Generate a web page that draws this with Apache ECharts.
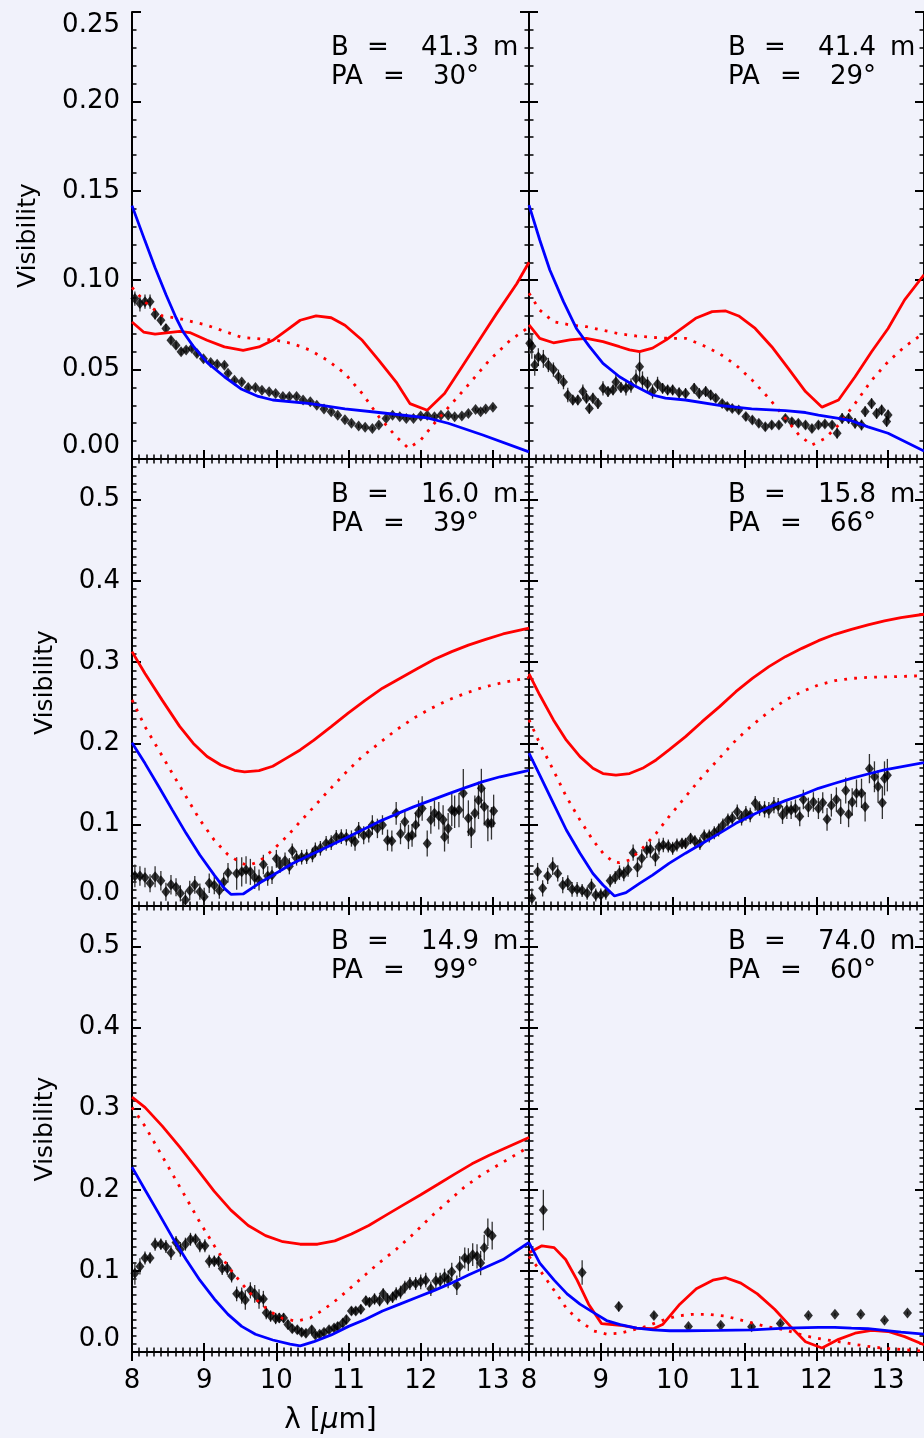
<!DOCTYPE html>
<html><head><meta charset="utf-8">
<script src="https://cdn.jsdelivr.net/npm/echarts@6.0.0/dist/echarts.min.js"></script>
<style>html,body{margin:0;padding:0;background:#f1f2fb}#c{width:924px;height:1438px}</style>
</head><body><div id="c"></div>
<script>
// ---------------- DATA ----------------
const xTicks = [8, 9, 10, 11, 12, 13];
const baselineLen = ['41.3', '41.4', '16.0', '15.8', '14.9', '74.0'];
const posAngle = ['30', '29', '39', '66', '99', '60'];

// Panel 1 (B=41.3 m, PA=30)
const p1_lam = [8.04,8.11,8.18,8.25,8.32,8.40,8.47,8.54,8.61,8.68,8.75,8.83,8.90,8.99,9.09,9.18,9.28,9.33,9.42,9.52,9.61,9.71,9.80,9.90,9.99,10.09,10.18,10.28,10.37,10.47,10.56,10.66,10.76,10.85,10.95,11.04,11.14,11.23,11.33,11.42,11.52,11.61,11.71,11.80,11.90,12.00,12.09,12.19,12.28,12.38,12.47,12.57,12.66,12.76,12.83,12.90,13.00];
const p1_vis = [0.0897,0.087,0.088,0.088,0.081,0.0776,0.073,0.0664,0.0636,0.060,0.061,0.062,0.059,0.056,0.054,0.053,0.0525,0.048,0.044,0.043,0.040,0.040,0.0385,0.0376,0.0366,0.035,0.035,0.035,0.033,0.032,0.030,0.028,0.0264,0.0245,0.022,0.020,0.0184,0.0177,0.017,0.019,0.0227,0.0245,0.0236,0.0227,0.0227,0.024,0.0245,0.0236,0.0245,0.0245,0.0236,0.024,0.0255,0.0277,0.0264,0.028,0.029];
const p1_err = [0.004,0.0045,0.004,0.004,0.003,0.003,0.0025,0.002,0.002,0.0018,0.0015,0.0015,0.0015,0.0015,0.0014,0.0014,0.0013,0.0012,0.0012,0.0012,0.0011,0.0011,0.001,0.001,0.001,0.001,0.001,0.001,0.001,0.001,0.001,0.001,0.001,0.001,0.001,0.001,0.001,0.001,0.001,0.001,0.001,0.001,0.001,0.001,0.001,0.001,0.001,0.001,0.001,0.001,0.001,0.001,0.001,0.001,0.001,0.001,0.001];
const p1_red_lam = [8.0,8.16,8.32,8.66,8.80,9.04,9.28,9.54,9.76,9.95,10.14,10.33,10.55,10.76,10.95,11.19,11.42,11.66,11.85,12.09,12.33,12.57,12.81,13.05,13.33,13.5];
const p1_red = [0.0766,0.071,0.0698,0.0714,0.0707,0.0664,0.0627,0.0608,0.0627,0.0664,0.072,0.0776,0.080,0.079,0.0748,0.0664,0.0552,0.043,0.031,0.0273,0.0366,0.0515,0.0664,0.0813,0.098,0.110];
const p1_dot_lam = [8.0,8.18,8.42,8.66,9.04,9.52,10.0,10.23,10.47,10.71,10.95,11.19,11.42,11.66,11.83,12.0,12.19,12.43,12.67,12.95,13.24,13.5];
const p1_dot = [0.096,0.0878,0.080,0.0785,0.0748,0.068,0.0664,0.0645,0.0608,0.0552,0.0478,0.0366,0.0236,0.0125,0.006,0.0106,0.020,0.031,0.042,0.0552,0.0664,0.0738];
const p1_blue_lam = [8.0,8.18,8.32,8.47,8.61,8.71,8.85,9.04,9.28,9.52,9.75,9.95,10.47,10.95,11.42,12.09,12.38,12.86,13.5];
const p1_blue = [0.1417,0.122,0.107,0.092,0.079,0.071,0.063,0.054,0.046,0.039,0.035,0.033,0.031,0.028,0.026,0.023,0.020,0.0134,0.004];

// Panel 2 (B=41.4 m, PA=29)
const p2_lam = [8.01,8.04,8.08,8.13,8.20,8.27,8.34,8.41,8.48,8.54,8.61,8.68,8.75,8.80,8.84,8.89,8.96,9.03,9.10,9.17,9.21,9.28,9.35,9.42,9.49,9.54,9.58,9.65,9.72,9.79,9.86,9.93,10.00,10.09,10.18,10.30,10.37,10.46,10.53,10.60,10.69,10.76,10.83,10.92,11.02,11.11,11.20,11.29,11.38,11.48,11.57,11.66,11.75,11.85,11.94,12.03,12.12,12.22,12.29,12.36,12.45,12.54,12.63,12.68,12.77,12.84,12.91,12.98,13.00];
const p2_vis = [0.0647,0.063,0.0526,0.057,0.056,0.0526,0.050,0.046,0.043,0.0358,0.033,0.033,0.0377,0.034,0.0283,0.034,0.031,0.0395,0.0377,0.0386,0.043,0.040,0.0395,0.041,0.045,0.0516,0.044,0.042,0.0377,0.042,0.0395,0.0386,0.0386,0.037,0.0367,0.0395,0.0367,0.0377,0.0358,0.034,0.031,0.0293,0.0283,0.0274,0.0237,0.0218,0.020,0.018,0.019,0.019,0.0227,0.0209,0.020,0.019,0.017,0.019,0.0196,0.019,0.0144,0.0227,0.0227,0.020,0.019,0.0265,0.031,0.0255,0.0274,0.021,0.0246];
const p2_err = [0.006,0.007,0.006,0.005,0.005,0.004,0.004,0.004,0.004,0.004,0.003,0.003,0.004,0.003,0.003,0.003,0.003,0.004,0.003,0.003,0.004,0.003,0.004,0.004,0.005,0.008,0.005,0.004,0.004,0.004,0.003,0.003,0.003,0.003,0.003,0.003,0.003,0.003,0.003,0.002,0.002,0.002,0.002,0.002,0.002,0.002,0.002,0.002,0.002,0.002,0.002,0.002,0.002,0.002,0.002,0.002,0.002,0.002,0.003,0.003,0.003,0.003,0.003,0.003,0.003,0.003,0.003,0.003,0.003];
const p2_red_lam = [8.0,8.15,8.34,8.57,8.8,9.03,9.26,9.4,9.54,9.72,9.91,10.09,10.32,10.55,10.74,10.92,11.15,11.38,11.61,11.85,12.08,12.31,12.54,12.77,13.0,13.23,13.5];
const p2_red = [0.075,0.0675,0.065,0.0666,0.0675,0.0656,0.0628,0.061,0.060,0.062,0.0666,0.072,0.0787,0.0824,0.0828,0.080,0.073,0.0628,0.0507,0.0377,0.029,0.033,0.046,0.060,0.073,0.089,0.103];
const p2_dot_lam = [8.0,8.15,8.34,8.57,8.8,9.03,9.26,9.49,9.72,9.95,10.18,10.41,10.65,10.88,11.11,11.34,11.57,11.76,11.94,12.12,12.31,12.54,12.77,13.0,13.23,13.5];
const p2_dot = [0.0927,0.0833,0.0768,0.075,0.074,0.072,0.070,0.0688,0.068,0.0675,0.0675,0.0638,0.059,0.0526,0.044,0.034,0.0227,0.0134,0.0078,0.0115,0.019,0.031,0.044,0.0544,0.0628,0.0705];
const p2_blue_lam = [8.0,8.15,8.29,8.48,8.66,8.84,9.03,9.26,9.49,9.72,9.9,10.18,10.65,11.1,11.57,11.85,12.03,12.31,12.49,12.72,13.0,13.5];
const p2_blue = [0.142,0.1225,0.1057,0.088,0.073,0.063,0.0535,0.046,0.0405,0.0358,0.034,0.033,0.030,0.028,0.027,0.026,0.0246,0.0227,0.0214,0.018,0.0144,0.0045];

// Panel 3 (B=16.0 m, PA=39)
const p3_lam = [8.04,8.11,8.18,8.25,8.32,8.40,8.47,8.54,8.61,8.67,8.74,8.80,8.87,8.94,9.00,9.07,9.14,9.21,9.27,9.33,9.45,9.52,9.58,9.64,9.70,9.76,9.82,9.88,9.94,10.00,10.05,10.12,10.18,10.22,10.28,10.35,10.42,10.50,10.54,10.61,10.69,10.76,10.83,10.90,10.97,11.04,11.09,11.14,11.21,11.28,11.33,11.40,11.47,11.54,11.60,11.66,11.72,11.78,11.83,11.88,11.93,11.97,12.02,12.09,12.14,12.19,12.25,12.31,12.33,12.38,12.43,12.47,12.53,12.59,12.66,12.70,12.75,12.80,12.84,12.88,12.93,12.98,13.01];
const p3_vis = [0.037,0.037,0.035,0.028,0.036,0.031,0.0176,0.026,0.023,0.0156,0.0074,0.019,0.026,0.0176,0.0115,0.028,0.0254,0.019,0.0295,0.041,0.040,0.042,0.0443,0.042,0.035,0.032,0.051,0.037,0.038,0.058,0.0505,0.0558,0.049,0.068,0.0587,0.060,0.0607,0.0628,0.069,0.071,0.077,0.078,0.0845,0.0853,0.0845,0.083,0.079,0.0935,0.087,0.089,0.0997,0.0955,0.0997,0.081,0.080,0.114,0.089,0.1038,0.085,0.087,0.0997,0.114,0.120,0.077,0.106,0.114,0.111,0.106,0.085,0.0955,0.118,0.116,0.118,0.1386,0.108,0.0915,0.114,0.130,0.1448,0.122,0.1017,0.1017,0.117];
const p3_err = [0.014,0.012,0.012,0.011,0.013,0.012,0.011,0.012,0.011,0.010,0.011,0.012,0.011,0.010,0.011,0.012,0.011,0.010,0.011,0.012,0.020,0.018,0.017,0.016,0.014,0.013,0.012,0.012,0.011,0.011,0.010,0.010,0.010,0.009,0.009,0.009,0.009,0.009,0.009,0.009,0.009,0.009,0.009,0.009,0.010,0.010,0.011,0.010,0.011,0.011,0.012,0.012,0.012,0.013,0.013,0.014,0.013,0.014,0.015,0.014,0.015,0.016,0.015,0.016,0.017,0.016,0.017,0.018,0.018,0.019,0.020,0.020,0.021,0.030,0.022,0.020,0.022,0.023,0.024,0.023,0.022,0.020,0.020];
const p3_red_lam = [8.0,8.18,8.42,8.66,8.85,9.04,9.23,9.42,9.56,9.76,9.95,10.14,10.33,10.52,10.76,10.99,11.23,11.47,11.71,11.95,12.19,12.43,12.66,12.9,13.14,13.5];
const p3_red = [0.313,0.286,0.253,0.221,0.200,0.184,0.1735,0.167,0.165,0.1665,0.172,0.182,0.192,0.204,0.2207,0.237,0.253,0.268,0.280,0.292,0.3035,0.313,0.321,0.328,0.3347,0.342];
const p3_dot_lam = [8.0,8.18,8.37,8.56,8.75,8.94,9.14,9.33,9.52,9.61,9.76,9.95,10.14,10.33,10.52,10.71,10.95,11.19,11.42,11.66,11.9,12.14,12.38,12.62,12.86,13.14,13.5];
const p3_dot = [0.2535,0.2207,0.192,0.163,0.1345,0.106,0.081,0.063,0.0525,0.050,0.0545,0.069,0.085,0.1038,0.122,0.1407,0.163,0.184,0.200,0.2166,0.231,0.243,0.2535,0.2617,0.269,0.275,0.281];
const p3_blue_lam = [8.0,8.18,8.37,8.56,8.75,8.94,9.14,9.28,9.37,9.54,9.76,9.99,10.23,10.47,10.71,10.95,11.19,11.42,11.66,11.9,12.14,12.38,12.62,12.86,13.1,13.5];
const p3_blue = [0.201,0.1755,0.147,0.118,0.0894,0.0628,0.038,0.0217,0.0144,0.0148,0.0279,0.040,0.0525,0.0628,0.073,0.083,0.0935,0.1038,0.113,0.122,0.130,0.138,0.1456,0.153,0.159,0.167];

// Panel 4 (B=15.8 m, PA=66)
const p4_lam = [8.04,8.12,8.19,8.26,8.33,8.40,8.47,8.54,8.60,8.67,8.74,8.81,8.87,8.93,9.00,9.07,9.13,9.20,9.26,9.32,9.38,9.45,9.51,9.57,9.64,9.69,9.76,9.81,9.87,9.94,10.00,10.06,10.13,10.18,10.25,10.31,10.38,10.44,10.51,10.58,10.64,10.70,10.77,10.83,10.90,10.96,11.02,11.08,11.15,11.21,11.28,11.34,11.41,11.47,11.53,11.59,11.65,11.71,11.77,11.82,11.89,11.96,12.03,12.09,12.15,12.21,12.28,12.34,12.41,12.45,12.50,12.56,12.63,12.68,12.74,12.81,12.86,12.92,12.95,12.99];
const p4_vis = [0.0094,0.042,0.0217,0.037,0.049,0.040,0.0258,0.0287,0.0205,0.0205,0.019,0.0156,0.0246,0.0135,0.0135,0.0156,0.031,0.035,0.041,0.0394,0.045,0.0656,0.0476,0.0587,0.069,0.0697,0.060,0.073,0.075,0.0738,0.071,0.075,0.077,0.077,0.083,0.080,0.077,0.086,0.086,0.090,0.0935,0.0997,0.1058,0.108,0.116,0.108,0.114,0.112,0.1263,0.120,0.119,0.118,0.124,0.123,0.112,0.118,0.118,0.120,0.110,0.131,0.1214,0.128,0.120,0.127,0.1066,0.124,0.131,0.116,0.142,0.113,0.128,0.1386,0.1386,0.122,0.169,0.159,0.147,0.127,0.157,0.161];
const p4_err = [0.012,0.011,0.010,0.010,0.011,0.010,0.010,0.009,0.009,0.009,0.008,0.008,0.009,0.008,0.008,0.008,0.008,0.008,0.009,0.009,0.009,0.010,0.012,0.011,0.010,0.010,0.011,0.010,0.009,0.008,0.008,0.008,0.007,0.007,0.007,0.007,0.008,0.008,0.008,0.008,0.008,0.008,0.008,0.008,0.009,0.009,0.009,0.009,0.009,0.009,0.010,0.010,0.010,0.010,0.011,0.011,0.011,0.011,0.012,0.012,0.012,0.012,0.013,0.013,0.014,0.014,0.015,0.015,0.016,0.016,0.017,0.017,0.018,0.018,0.018,0.019,0.020,0.020,0.021,0.020];
const p4_red_lam = [8.0,8.15,8.34,8.52,8.71,8.89,9.03,9.21,9.4,9.58,9.77,9.95,10.18,10.41,10.65,10.88,11.11,11.34,11.57,11.8,12.03,12.26,12.49,12.72,12.95,13.18,13.5];
const p4_red = [0.2855,0.2596,0.229,0.204,0.1838,0.1694,0.163,0.161,0.163,0.1694,0.1797,0.192,0.2084,0.2268,0.245,0.2637,0.280,0.2945,0.3068,0.317,0.3265,0.3343,0.3404,0.3458,0.3507,0.3548,0.359];
const p4_dot_lam = [8.0,8.15,8.34,8.52,8.71,8.89,9.03,9.17,9.26,9.4,9.58,9.77,9.95,10.18,10.41,10.65,10.88,11.11,11.34,11.57,11.8,12.03,12.26,12.49,12.72,12.95,13.5];
const p4_dot = [0.229,0.200,0.167,0.1345,0.1058,0.081,0.065,0.0545,0.0533,0.0566,0.071,0.0894,0.110,0.1345,0.159,0.1817,0.204,0.2227,0.239,0.2535,0.2637,0.272,0.2773,0.280,0.2814,0.2818,0.2834];
const p4_blue_lam = [8.0,8.15,8.34,8.52,8.71,8.89,9.03,9.19,9.35,9.54,9.72,9.95,10.18,10.41,10.65,10.88,11.11,11.34,11.57,11.8,12.03,12.26,12.49,12.72,12.95,13.5];
const p4_blue = [0.188,0.161,0.1263,0.0935,0.065,0.040,0.0258,0.0123,0.0164,0.0279,0.038,0.0525,0.065,0.077,0.0894,0.1017,0.112,0.1214,0.1296,0.1366,0.1448,0.151,0.157,0.1624,0.1674,0.1764];

// Panel 5 (B=14.9 m, PA=99)
const p5_lam = [8.04,8.11,8.18,8.25,8.32,8.40,8.47,8.54,8.61,8.67,8.74,8.81,8.88,8.94,9.01,9.07,9.14,9.20,9.25,9.32,9.38,9.45,9.52,9.57,9.64,9.70,9.76,9.82,9.86,9.92,9.99,10.04,10.10,10.16,10.22,10.29,10.35,10.41,10.49,10.54,10.60,10.66,10.73,10.80,10.85,10.92,10.97,11.04,11.10,11.17,11.24,11.29,11.36,11.43,11.48,11.54,11.61,11.66,11.72,11.78,11.85,11.93,12.00,12.07,12.14,12.21,12.27,12.33,12.38,12.43,12.50,12.54,12.61,12.66,12.72,12.78,12.83,12.88,12.93,12.99];
const p5_vis = [0.097,0.1055,0.116,0.116,0.133,0.133,0.130,0.1224,0.135,0.1266,0.133,0.139,0.139,0.131,0.131,0.112,0.112,0.112,0.103,0.103,0.0937,0.0717,0.0696,0.064,0.076,0.0717,0.0654,0.0654,0.0485,0.0443,0.0413,0.042,0.042,0.0338,0.0287,0.0274,0.0245,0.0232,0.0274,0.0211,0.0219,0.0245,0.0274,0.0295,0.0316,0.0359,0.040,0.0506,0.0506,0.0527,0.0633,0.0612,0.0654,0.0633,0.0717,0.0654,0.0675,0.0717,0.0738,0.080,0.0844,0.0844,0.0865,0.0886,0.078,0.0878,0.0878,0.0928,0.0895,0.099,0.0823,0.1055,0.116,0.114,0.120,0.118,0.1097,0.1287,0.1477,0.1435];
const p5_err = [0.014,0.010,0.008,0.007,0.008,0.007,0.008,0.009,0.008,0.009,0.008,0.008,0.007,0.008,0.008,0.008,0.007,0.007,0.008,0.008,0.008,0.009,0.010,0.012,0.010,0.011,0.012,0.010,0.008,0.007,0.007,0.006,0.006,0.006,0.005,0.005,0.005,0.005,0.005,0.004,0.004,0.004,0.004,0.004,0.005,0.005,0.005,0.005,0.005,0.006,0.006,0.006,0.007,0.007,0.007,0.007,0.007,0.008,0.008,0.008,0.008,0.008,0.009,0.009,0.009,0.010,0.010,0.010,0.011,0.011,0.012,0.013,0.013,0.014,0.014,0.015,0.015,0.016,0.017,0.017];
const p5_red_lam = [8.0,8.18,8.42,8.66,8.9,9.14,9.37,9.61,9.85,10.09,10.33,10.57,10.81,11.04,11.28,11.52,11.76,12.0,12.24,12.47,12.71,12.95,13.19,13.5];
const p5_red = [0.3143,0.3017,0.2785,0.253,0.2257,0.198,0.175,0.156,0.1435,0.136,0.1329,0.1329,0.137,0.1456,0.156,0.1688,0.1814,0.194,0.2068,0.2194,0.232,0.2426,0.2523,0.2646];
const p5_dot_lam = [8.0,8.18,8.37,8.56,8.75,8.94,9.14,9.33,9.52,9.71,9.9,10.09,10.28,10.47,10.66,10.85,11.04,11.23,11.42,11.66,11.9,12.14,12.38,12.62,12.86,13.1,13.5];
const p5_dot = [0.3017,0.2785,0.249,0.2194,0.190,0.160,0.131,0.1055,0.0844,0.0654,0.0506,0.0413,0.038,0.042,0.0527,0.0654,0.080,0.095,0.1097,0.1266,0.1456,0.1667,0.1857,0.2046,0.2194,0.232,0.253];
const p5_blue_lam = [8.0,8.18,8.37,8.56,8.75,8.94,9.14,9.33,9.52,9.71,9.95,10.19,10.33,10.52,10.76,11.0,11.23,11.47,11.71,11.95,12.19,12.43,12.66,12.9,13.14,13.5];
const p5_blue = [0.228,0.200,0.171,0.1413,0.114,0.0886,0.0654,0.0464,0.0316,0.0219,0.0148,0.0097,0.0076,0.0127,0.0211,0.0316,0.040,0.0506,0.059,0.0675,0.076,0.0852,0.095,0.1046,0.114,0.135];

// Panel 6 (B=74.0 m, PA=60)
const p6_lam = [8.20,8.74,9.25,9.74,10.22,10.67,11.10,11.50,11.89,12.26,12.62,12.95,13.27];
const p6_vis = [0.175,0.098,0.056,0.045,0.0316,0.033,0.031,0.035,0.045,0.0464,0.0464,0.039,0.048];
const p6_err = [0.025,0.015,0.006,0.004,0.002,0.002,0.002,0.002,0.002,0.002,0.002,0.002,0.002];
const p6_red_lam = [8.0,8.18,8.35,8.51,8.67,8.83,9.01,9.27,9.5,9.73,9.86,10.1,10.33,10.56,10.74,10.95,11.18,11.42,11.64,11.85,12.08,12.31,12.54,12.77,13.0,13.23,13.5];
const p6_red = [0.1224,0.131,0.1287,0.114,0.0886,0.059,0.035,0.033,0.0295,0.0287,0.0338,0.059,0.078,0.0886,0.0916,0.085,0.0717,0.0527,0.0316,0.0127,0.005,0.0156,0.0232,0.0266,0.0253,0.019,0.009];
const p6_dot_lam = [8.0,8.15,8.35,8.53,8.71,8.9,9.08,9.27,9.45,9.64,9.82,10.05,10.27,10.51,10.73,11.01,11.29,11.56,11.84,12.07,12.31,12.54,12.77,13.0,13.5];
const p6_dot = [0.118,0.101,0.076,0.0527,0.038,0.026,0.022,0.0232,0.0274,0.0316,0.038,0.0443,0.0464,0.0464,0.0443,0.038,0.0316,0.0274,0.020,0.016,0.0127,0.0093,0.0063,0.0042,0.001];
const p6_blue_lam = [8.0,8.15,8.35,8.53,8.71,8.9,9.08,9.27,9.5,9.73,9.96,10.19,10.65,11.11,11.57,12.03,12.26,12.49,12.72,12.95,13.18,13.5];
const p6_blue = [0.135,0.1097,0.0886,0.0717,0.059,0.0485,0.0388,0.0338,0.0295,0.0274,0.0262,0.0262,0.0266,0.0274,0.0295,0.0304,0.0304,0.0295,0.0287,0.0266,0.0245,0.022];

// ---------------- BUILD ----------------
const panels = [
  {lam:p1_lam, vis:p1_vis, err:p1_err, rL:p1_red_lam, r:p1_red, dL:p1_dot_lam, d:p1_dot, bL:p1_blue_lam, b:p1_blue},
  {lam:p2_lam, vis:p2_vis, err:p2_err, rL:p2_red_lam, r:p2_red, dL:p2_dot_lam, d:p2_dot, bL:p2_blue_lam, b:p2_blue},
  {lam:p3_lam, vis:p3_vis, err:p3_err, rL:p3_red_lam, r:p3_red, dL:p3_dot_lam, d:p3_dot, bL:p3_blue_lam, b:p3_blue},
  {lam:p4_lam, vis:p4_vis, err:p4_err, rL:p4_red_lam, r:p4_red, dL:p4_dot_lam, d:p4_dot, bL:p4_blue_lam, b:p4_blue},
  {lam:p5_lam, vis:p5_vis, err:p5_err, rL:p5_red_lam, r:p5_red, dL:p5_dot_lam, d:p5_dot, bL:p5_blue_lam, b:p5_blue},
  {lam:p6_lam, vis:p6_vis, err:p6_err, rL:p6_red_lam, r:p6_red, dL:p6_dot_lam, d:p6_dot, bL:p6_blue_lam, b:p6_blue}
];

const FONT = "'DejaVu Sans', sans-serif";
const colL = [132, 529], rowT = [12, 459, 906], rowH = [447, 447, 446], PW = 397;
const yMax = [0.25, 0.55, 0.55], yInt = [0.05, 0.1, 0.1], yMinor = [0.01, 0.01, 0.01];

const grid = [], xAxis = [], yAxis = [], series = [], graphic = [];
const zip = (a, b) => a.map((v, k) => [v, b[k]]);

panels.forEach((p, i) => {
  const r = Math.floor(i / 2), c = i % 2;
  grid.push({left: colL[c], top: rowT[r], width: PW, height: rowH[r], containLabel: false});
  const lineBase = {show: true, lineStyle: {color: '#000', width: 2}};
  const xi = xAxis.length;
  xAxis.push({type: 'value', gridIndex: i, position: 'bottom', min: 8, max: 13.5, interval: 1,
    axisLine: lineBase, splitLine: {show: false},
    axisTick: {show: true, inside: true, length: 9, lineStyle: {color: '#000', width: 2}},
    axisLabel: {show: r === 2, showMaxLabel: false, color: '#000', fontSize: 26, fontFamily: FONT, margin: 16},
    name: (r === 2 && c === 0) ? 'λ [{i|μ}m]' : '', nameLocation: 'middle', nameGap: 55,
    nameTextStyle: {color: '#000', fontSize: 28, fontFamily: FONT, rich: {i: {fontStyle: 'italic', fontSize: 28, fontFamily: FONT, color: '#000'}}}
  });
  xAxis.push({type: 'value', gridIndex: i, position: 'bottom', min: 8, max: 13.5, interval: 0.1,
    axisLine: {show: false}, splitLine: {show: false}, axisLabel: {show: false},
    axisTick: {show: true, inside: true, length: 4.5, lineStyle: {color: '#000', width: 1.5}}});
  xAxis.push({type: 'value', gridIndex: i, position: 'top', min: 8, max: 13.5, interval: 1,
    axisLine: lineBase, splitLine: {show: false}, axisLabel: {show: false},
    axisTick: {show: true, inside: true, length: 9, lineStyle: {color: '#000', width: 2}}});
  xAxis.push({type: 'value', gridIndex: i, position: 'top', min: 8, max: 13.5, interval: 0.1,
    axisLine: {show: false}, splitLine: {show: false}, axisLabel: {show: false},
    axisTick: {show: true, inside: true, length: 4.5, lineStyle: {color: '#000', width: 1.5}}});

  const yi = yAxis.length;
  const dec = r === 0 ? 2 : 1;
  yAxis.push({type: 'value', gridIndex: i, position: 'left', min: 0, max: yMax[r], interval: yInt[r],
    axisLine: lineBase, splitLine: {show: false},
    axisTick: {show: true, inside: true, length: 9, lineStyle: {color: '#000', width: 2}},
    axisLabel: {show: c === 0, showMaxLabel: r === 0, color: '#000', fontSize: 26, fontFamily: FONT, margin: 12,
      formatter: v => v.toFixed(dec), verticalAlignMinLabel: 'bottom', verticalAlignMaxLabel: 'top'},
    name: c === 0 ? 'Visibility' : '', nameLocation: 'middle', nameRotate: 90, nameGap: r === 0 ? 91 : 74,
    nameTextStyle: {color: '#000', fontSize: 25, fontFamily: FONT}
  });
  yAxis.push({type: 'value', gridIndex: i, position: 'left', min: 0, max: yMax[r], interval: yMinor[r],
    axisLine: {show: false}, splitLine: {show: false}, axisLabel: {show: false},
    axisTick: {show: true, inside: true, length: 4.5, lineStyle: {color: '#000', width: 1.5}}});
  yAxis.push({type: 'value', gridIndex: i, position: 'right', min: 0, max: yMax[r], interval: yInt[r],
    axisLine: lineBase, splitLine: {show: false}, axisLabel: {show: false},
    axisTick: {show: true, inside: true, length: 9, lineStyle: {color: '#000', width: 2}}});
  yAxis.push({type: 'value', gridIndex: i, position: 'right', min: 0, max: yMax[r], interval: yMinor[r],
    axisLine: {show: false}, splitLine: {show: false}, axisLabel: {show: false},
    axisTick: {show: true, inside: true, length: 4.5, lineStyle: {color: '#000', width: 1.5}}});

  series.push({type: 'custom', xAxisIndex: xi, yAxisIndex: yi, z: 2, clip: true,
    data: p.lam.map((l, k) => [l, p.vis[k] - p.err[k], p.vis[k] + p.err[k]]),
    renderItem: (params, api) => {
      const a = api.coord([api.value(0), api.value(1)]);
      const b = api.coord([api.value(0), api.value(2)]);
      return {type: 'line', shape: {x1: a[0], y1: a[1], x2: b[0], y2: b[1]},
        style: {stroke: '#333', lineWidth: 1.3}};
    }
  });
  series.push({type: 'scatter', xAxisIndex: xi, yAxisIndex: yi, z: 3, symbol: 'diamond', symbolSize: [9, 11],
    itemStyle: {color: '#000'}, data: zip(p.lam, p.vis), clip: true});
  series.push({type: 'line', xAxisIndex: xi, yAxisIndex: yi, z: 4, showSymbol: false, clip: true,
    lineStyle: {color: '#ff0000', width: 2.8}, data: zip(p.rL, p.r)});
  series.push({type: 'line', xAxisIndex: xi, yAxisIndex: yi, z: 4, showSymbol: false, clip: true,
    lineStyle: {color: '#ff0000', width: 2.8, type: [2.8, 7.2]}, data: zip(p.dL, p.d)});
  series.push({type: 'line', xAxisIndex: xi, yAxisIndex: yi, z: 5, showSymbol: false, clip: true,
    lineStyle: {color: '#0000ff', width: 2.8}, data: zip(p.bL, p.b)});

  const gx = colL[c], gy = rowT[r];
  const t = (x, y, s, align) => ({type: 'text', x: x, y: y, z: 100,
    style: {text: s, fontSize: 26, fontFamily: FONT, fill: '#000', align: align, verticalAlign: 'middle'}});
  graphic.push(t(gx + 199, gy + 36, 'B', 'left'));
  graphic.push(t(gx + 235, gy + 36, '=', 'left'));
  graphic.push(t(gx + 347, gy + 36, baselineLen[i], 'right'));
  graphic.push(t(gx + 361, gy + 36, 'm', 'left'));
  graphic.push(t(gx + 199, gy + 65, 'PA', 'left'));
  graphic.push(t(gx + 251, gy + 65, '=', 'left'));
  graphic.push(t(gx + 347, gy + 65, posAngle[i] + '°', 'right'));
});

const chart = echarts.init(document.getElementById('c'), null, {renderer: 'canvas'});
chart.setOption({
  backgroundColor: '#f1f2fb',
  animation: false,
  grid, xAxis, yAxis, series, graphic
});
</script></body></html>
